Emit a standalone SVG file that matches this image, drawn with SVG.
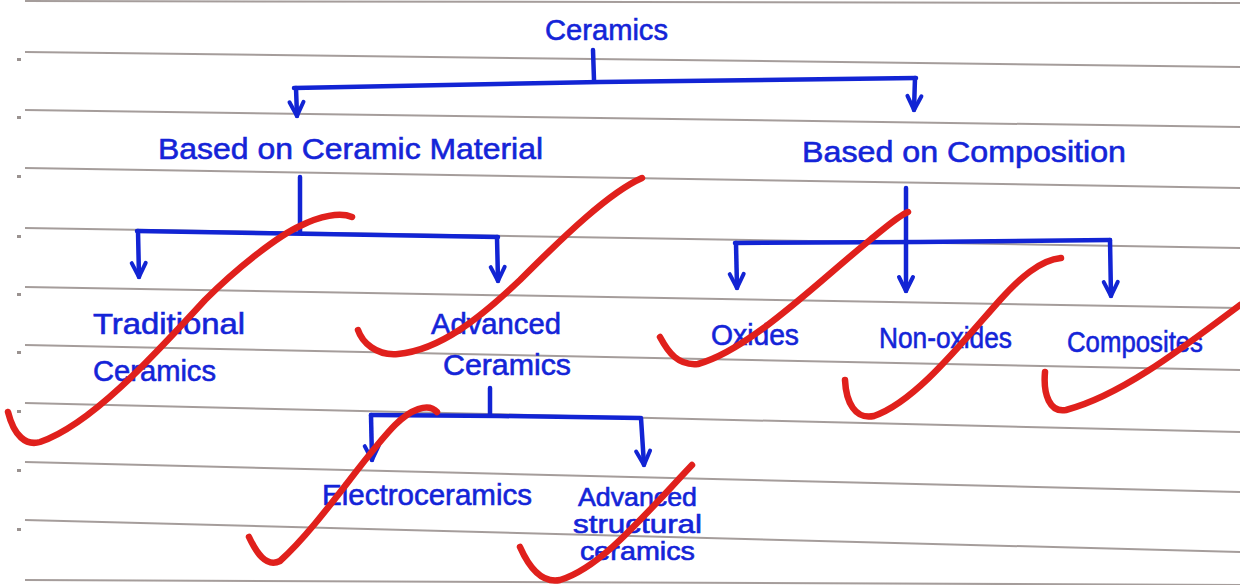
<svg xmlns="http://www.w3.org/2000/svg" width="1240" height="585" viewBox="0 0 1240 585">
<style>
.rule{stroke:#8e8482;stroke-width:2;fill:none;opacity:0.8}
.tick{fill:#9a9290}
.t{font-family:"Liberation Sans","DejaVu Sans",sans-serif;font-size:30px;fill:#1424d8;stroke:#1424d8;stroke-width:0.6}
.s{font-size:25px}
.c{stroke:#1224d4;stroke-width:4.5;fill:none;stroke-linecap:round;stroke-linejoin:round}
.chk{stroke:#e0201c;stroke-width:6.5;fill:none;stroke-linecap:round;stroke-linejoin:round}
</style>
<defs>
<marker id="ah" markerUnits="userSpaceOnUse" markerWidth="20" markerHeight="20" viewBox="-10 -16 20 20" refX="0" refY="0" orient="auto-start-reverse" overflow="visible">
<path d="M-14,-7 L0,0 L-14,7" fill="none" stroke="#1224d4" stroke-width="4" stroke-linecap="round" stroke-linejoin="round"/>
</marker>
</defs>
<rect width="1240" height="585" fill="#ffffff"/>
<g id="paper">
<path class="rule" d="M25,1 L1240,3"/>
<path class="rule" d="M25,52 L1240,67"/>
<path class="rule" d="M25,110 L1240,127"/>
<path class="rule" d="M25,168 L1240,188"/>
<path class="rule" d="M25,228 L1240,248"/>
<path class="rule" d="M25,287 L1240,308"/>
<path class="rule" d="M25,345 L1240,370"/>
<path class="rule" d="M25,403 L1240,432"/>
<path class="rule" d="M25,462 L1240,492"/>
<path class="rule" d="M25,520 L1240,552"/>
<path class="rule" d="M25,580 L1240,585"/>
<rect class="tick" x="17" y="58" width="4" height="3"/>
<rect class="tick" x="17" y="116" width="4" height="3"/>
<rect class="tick" x="17" y="175" width="4" height="3"/>
<rect class="tick" x="17" y="235" width="4" height="3"/>
<rect class="tick" x="17" y="293" width="4" height="3"/>
<rect class="tick" x="17" y="351" width="4" height="3"/>
<rect class="tick" x="17" y="410" width="4" height="3"/>
<rect class="tick" x="17" y="469" width="4" height="3"/>
<rect class="tick" x="17" y="528" width="4" height="3"/>
</g>
<g id="connectors">
<path class="c" d="M593,50 L594,80"/>
<path class="c" d="M294,88 L600,82 L916,78"/>
<path class="c" d="M296,88 L297,116" marker-end="url(#ah)"/>
<path class="c" d="M915,78 L914,110" marker-end="url(#ah)"/>
<path class="c" d="M300,177 L300,233"/>
<path class="c" d="M137,231 L320,234 L498,237"/>
<path class="c" d="M138,231 L139,277" marker-end="url(#ah)"/>
<path class="c" d="M497,237 L498,281" marker-end="url(#ah)"/>
<path class="c" d="M906,188 L906,291" marker-end="url(#ah)"/>
<path class="c" d="M735,243 L920,242 L1110,240"/>
<path class="c" d="M736,243 L737,288" marker-end="url(#ah)"/>
<path class="c" d="M1110,240 L1111,296" marker-end="url(#ah)"/>
<path class="c" d="M490,388 L490,415"/>
<path class="c" d="M371,415 L500,416 L640,418"/>
<path class="c" d="M371,415 L372,460" marker-end="url(#ah)"/>
<path class="c" d="M641,418 L644,465" marker-end="url(#ah)"/>
</g>
<g id="n-ceramics"><text class="t" x="545" y="40" textLength="123" lengthAdjust="spacingAndGlyphs">Ceramics</text></g>
<g id="n-material"><text class="t" x="158" y="159" textLength="385" lengthAdjust="spacingAndGlyphs">Based on Ceramic Material</text></g>
<g id="n-composition"><text class="t" x="802" y="162" textLength="324" lengthAdjust="spacingAndGlyphs">Based on Composition</text></g>
<g id="n-traditional"><text class="t" x="93" y="334" textLength="152" lengthAdjust="spacingAndGlyphs">Traditional</text><text class="t" x="93" y="381" textLength="123" lengthAdjust="spacingAndGlyphs">Ceramics</text></g>
<g id="n-advanced"><text class="t" x="431" y="334" textLength="130" lengthAdjust="spacingAndGlyphs">Advanced</text><text class="t" x="443" y="375" textLength="128" lengthAdjust="spacingAndGlyphs">Ceramics</text></g>
<g id="n-oxides"><text class="t" x="711" y="345" textLength="88" lengthAdjust="spacingAndGlyphs">Oxides</text></g>
<g id="n-nonoxides"><text class="t" x="879" y="348" textLength="133" lengthAdjust="spacingAndGlyphs">Non-oxides</text></g>
<g id="n-composites"><text class="t" x="1067" y="352" textLength="136" lengthAdjust="spacingAndGlyphs">Composites</text></g>
<g id="n-electro"><text class="t" x="322" y="505" textLength="210" lengthAdjust="spacingAndGlyphs">Electroceramics</text></g>
<g id="n-structural"><text class="t s" x="578" y="506" textLength="119" lengthAdjust="spacingAndGlyphs">Advanced</text><text class="t s" x="573" y="533" textLength="129" lengthAdjust="spacingAndGlyphs">structural</text><text class="t s" x="580" y="560" textLength="115" lengthAdjust="spacingAndGlyphs">ceramics</text></g>
<g id="checks">
<path class="chk" d="M8,412 C14,436 26,446 40,442 C90,425 150,360 205,300 C240,265 280,235 300,226 C320,216 340,212 352,217"/>
<path class="chk" d="M358,330 C362,342 376,356 398,354 C440,350 480,318 520,280 C565,235 610,192 642,178"/>
<path class="chk" d="M660,337 C668,352 678,366 698,364 C750,350 820,280 870,240 C885,228 898,216 908,212"/>
<path class="chk" d="M845,380 C846,402 855,420 874,416 C915,402 960,345 1000,300 C1020,278 1040,260 1061,258"/>
<path class="chk" d="M1045,372 C1043,395 1050,413 1066,410 C1120,396 1180,350 1240,305"/>
<path class="chk" d="M249,537 C256,552 266,568 280,561 C320,525 365,455 395,425 C410,410 428,402 437,412"/>
<path class="chk" d="M520,547 C528,565 540,584 560,580 C600,568 640,520 692,465"/>
</g>
</svg>
